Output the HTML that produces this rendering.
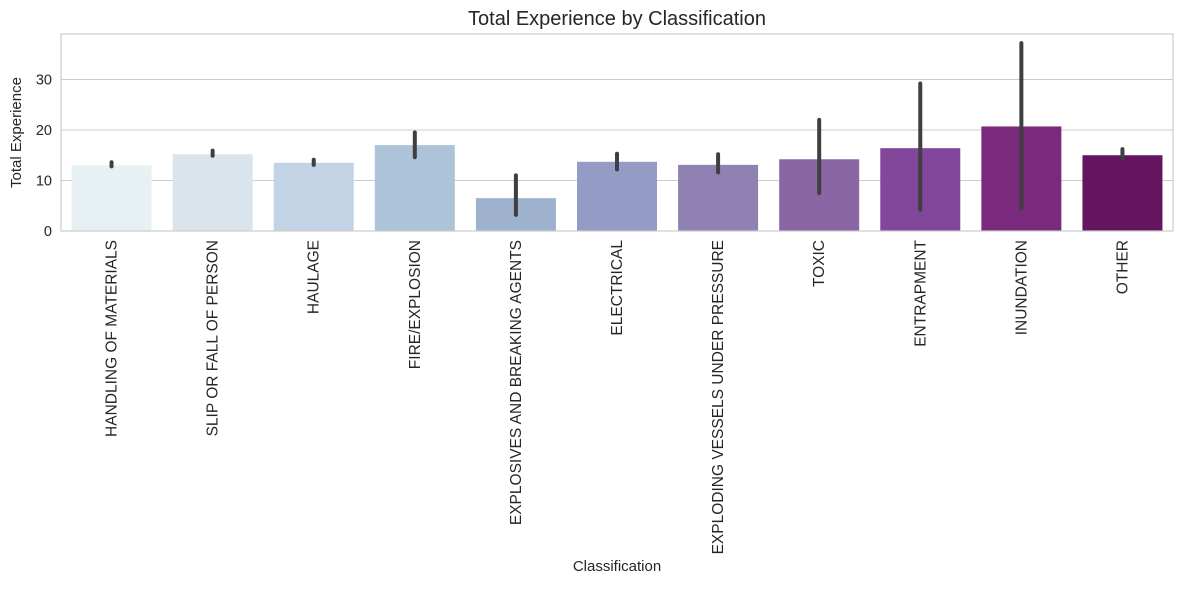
<!DOCTYPE html>
<html><head><meta charset="utf-8"><style>
body{margin:0;background:#fff;font-family:"Liberation Sans",Arial,sans-serif}
</style></head><body>
<svg id="chart" width="1184" height="584" xmlns="http://www.w3.org/2000/svg"></svg>
<script>
const categories=["HANDLING OF MATERIALS","SLIP OR FALL OF PERSON","HAULAGE","FIRE/EXPLOSION","EXPLOSIVES AND BREAKING AGENTS","ELECTRICAL","EXPLODING VESSELS UNDER PRESSURE","TOXIC","ENTRAPMENT","INUNDATION","OTHER"];
const values=[13.0,15.2,13.5,17.0,6.5,13.7,13.1,14.2,16.4,20.7,15.0];
const errLow=[12.8,14.9,13.1,14.6,3.2,12.2,11.6,7.5,4.2,4.5,14.4];
const errHigh=[13.6,15.9,14.1,19.5,11.0,15.3,15.2,22.0,29.2,37.2,16.2];
const colors=["#e7f0f3","#d9e4ed","#c1d3e4","#acc3da","#9eb2ce","#949bc4","#8f82b3","#8a66a4","#81479a","#792a7c","#63165f"];
const yTicks=[0,10,20,30];
const L=61,R=1173,T=34,B=231,yMax=39;
const svg=document.getElementById('chart');
const NS="http://www.w3.org/2000/svg";
function y(v){return B-(v/yMax)*(B-T);}
const slot=(R-L)/categories.length;
function xc(i){return L+slot*(i+0.5);}
function mk(tag,attrs,parent){const e=document.createElementNS(NS,tag);for(const k in attrs)e.setAttribute(k,attrs[k]);(parent||svg).appendChild(e);return e;}
yTicks.forEach(t=>{
  const g=mk('line',{x1:L,x2:R,y1:y(t),y2:y(t),stroke:'#cccccc','stroke-width':1});
  
  
  const tx=mk('text',{x:L-9,y:y(t)+5,'text-anchor':'end','font-size':14.5,fill:'#262626'});
  tx.textContent=t;
  
  
});
categories.forEach((c,i)=>{
  const r=mk('rect',{x:xc(i)-40,y:y(values[i]),width:80,height:B-y(values[i]),fill:colors[i]});
  
  
  const e=mk('line',{x1:xc(i),x2:xc(i),y1:y(errLow[i]),y2:y(errHigh[i]),stroke:'#3f3f3f','stroke-width':4,'stroke-linecap':'round'});
  
  
  const t=mk('text',{x:0,y:0,'text-anchor':'end','font-size':15.5,fill:'#262626',transform:`translate(${xc(i)+5},${B+9}) rotate(-90)`});
  t.textContent=c;
  
  
});
const fr=mk('rect',{x:L,y:T,width:R-L,height:B-T,fill:'none',stroke:'#cccccc','stroke-width':1.2});


const title=mk('text',{x:(L+R)/2,y:25,'text-anchor':'middle','font-size':20,fill:'#262626'});
title.textContent='Total Experience by Classification';


const xl=mk('text',{x:(L+R)/2,y:571,'text-anchor':'middle','font-size':15,fill:'#262626'});
xl.textContent='Classification';


const yl=mk('text',{x:0,y:0,'text-anchor':'middle','font-size':15,fill:'#262626',transform:`translate(21,${(T+B)/2}) rotate(-90)`});
yl.textContent='Total Experience';


</script>
</body></html>
